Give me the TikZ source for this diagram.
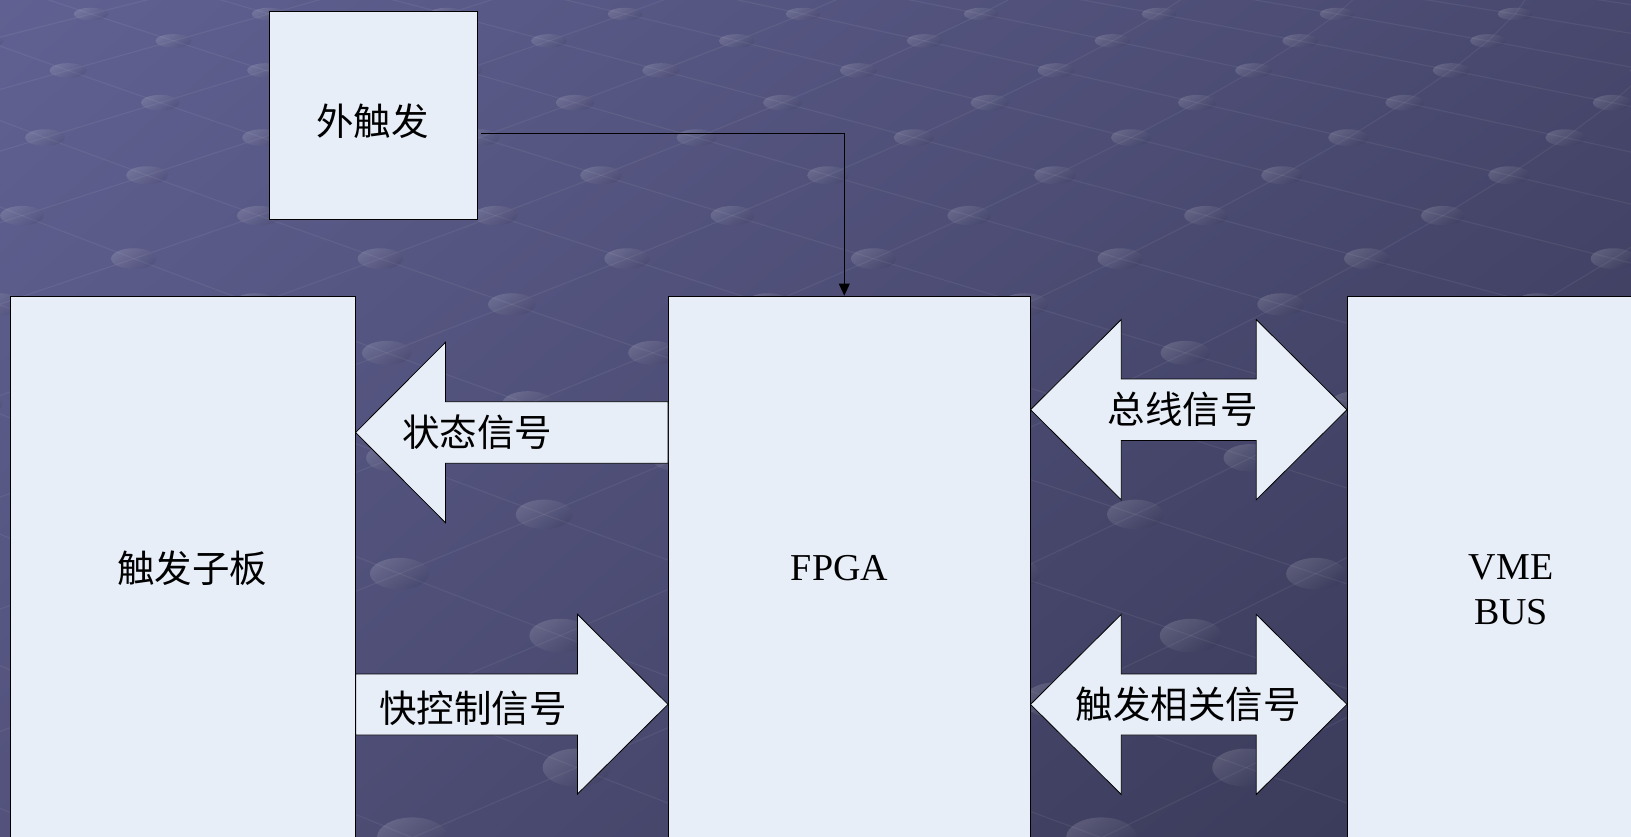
\documentclass[tikz,border=0pt]{standalone}
\usepackage{fontspec}
\setmainfont{Liberation Serif}
\newfontfamily\cjkfont{Noto Sans CJK SC}
\usetikzlibrary{arrows.meta,shadings}
\definecolor{boxfill}{RGB}{232,238,248}
\definecolor{bgUL}{RGB}{96,97,146}
\definecolor{bgUR}{RGB}{72,72,110}
\definecolor{bgLL}{RGB}{82,82,124}
\definecolor{bgLR}{RGB}{54,54,84}
\definecolor{dotdark}{RGB}{40,40,70}
\begin{document}
\begin{tikzpicture}[x=1pt,y=-1pt,
  box/.style={draw=black, line width=0.9pt, fill=boxfill, inner sep=0pt},
  blockarrow/.style={draw=black, line width=0.8pt, fill=boxfill, line join=miter},
  cjklabel/.style={font=\cjkfont\fontsize{37.5}{44}\selectfont, inner sep=0pt},
  latlabel/.style={font=\fontsize{38}{45}\selectfont, inner sep=0pt, align=center},
  gridline/.style={white, opacity=0.06, line width=1.2pt},
  dotstyle/.style={top color=white, bottom color=dotdark, shading angle=35, opacity=0.14},
  connector/.style={draw=black, line width=0.9pt, -{Triangle[length=12pt,width=11pt]}}
]
\useasboundingbox (0,0) rectangle (1631,836);
\shade[upper left=bgUL, upper right=bgUR, lower left=bgLL, lower right=bgLR] (0,0) rectangle (1631,836);
\begin{scope}
\clip (0,0) rectangle (1631,836);
% perspective lattice lines
\foreach \c in {-22,-20,...,18}{
  \draw[gridline] plot[variable=\t, samples at={-1,...,17}] ({300+((\c+\t)/2-0.174)*(178+9.8*\t)}, {14+25.5*\t+1.35*(\t)*(\t)});
}
\foreach \c in {-6,-4,...,34}{
  \draw[gridline] plot[variable=\t, samples at={-1,...,17}] ({300+((\c-\t)/2-0.174)*(178+9.8*\t)}, {14+25.5*\t+1.35*(\t)*(\t)});
}
% dots
\foreach \k in {-1,...,17}{
  \pgfmathsetmacro\yk{14+25.5*\k+1.35*(\k)*(\k)}
  \pgfmathsetmacro\sk{178+9.8*\k}
  \pgfmathsetmacro\rx{17+0.022*\yk}
  \pgfmathsetmacro\ry{6+0.017*\yk}
  \pgfmathsetmacro\parit{abs(mod(\k,2))}
  \foreach \j in {-3,...,9}{
    \pgfmathsetmacro\xx{300+((2*\j+\parit)/2-0.174)*\sk}
    \shade[dotstyle] (\xx,\yk) ellipse [x radius=\rx pt, y radius=\ry pt];
  }
}

% boxes
\node[box, minimum width=208.5pt, minimum height=208.5pt] (ext) at (373.25,115.25) {};
\node[box, minimum width=345.1pt, minimum height=544pt] (sub) at (183.05,568) {};
\node[box, minimum width=362.5pt, minimum height=544pt] (fpga) at (849.25,568) {};
\node[box, minimum width=353pt, minimum height=544pt] (vme) at (1523.5,568) {};

% box texts
\node[cjklabel] (extt) at (372.5,121) {外触发};
\node[cjklabel] (subt) at (192.4,568) {触发子板};
\node[latlabel] (fpgat) at (839.5,568) {FPGA};
\node[latlabel] (vmet) at (1511,590) {VME\\BUS};

% external trigger connector
\coordinate (start) at (481,133.3);
\coordinate (bend) at (844.3,133.3);
\draw[connector] (start) -- (bend) -- (bend |- fpga.north);

% state signal arrow (FPGA -> sub board)
\draw[blockarrow] (668,401.7) -- (445.5,401.7) -- (445.5,342.3) -- (355.6,432.5)
  -- (445.5,522.7) -- (445.5,463.3) -- (668,463.3) -- cycle;
% fast control arrow (sub board -> FPGA)
\draw[blockarrow] (355.6,674) -- (577.5,674) -- (577.5,614.3) -- (668,704.4)
  -- (577.5,794) -- (577.5,735) -- (355.6,735) -- cycle;
% bus signal double arrow
\draw[blockarrow] (1030.5,409.7) -- (1121.3,319.5) -- (1121.3,379) -- (1256.2,379)
  -- (1256.2,319.5) -- (1347,409.7) -- (1256.2,499.9) -- (1256.2,440.5)
  -- (1121.3,440.5) -- (1121.3,499.9) -- cycle;
% trigger related double arrow
\draw[blockarrow] (1030.5,704.4) -- (1121.3,614.3) -- (1121.3,674) -- (1256.2,674)
  -- (1256.2,614.3) -- (1347,704.4) -- (1256.2,794.5) -- (1256.2,735)
  -- (1121.3,735) -- (1121.3,794.5) -- cycle;

% arrow labels
\node[cjklabel] (statet) at (477,432) {状态信号};
\node[cjklabel] (fastt) at (473,708) {快控制信号};
\node[cjklabel] (bust) at (1182.5,409.7) {总线信号};
\node[cjklabel] (trigt) at (1188,704.4) {触发相关信号};
\end{scope}
\end{tikzpicture}
\end{document}
